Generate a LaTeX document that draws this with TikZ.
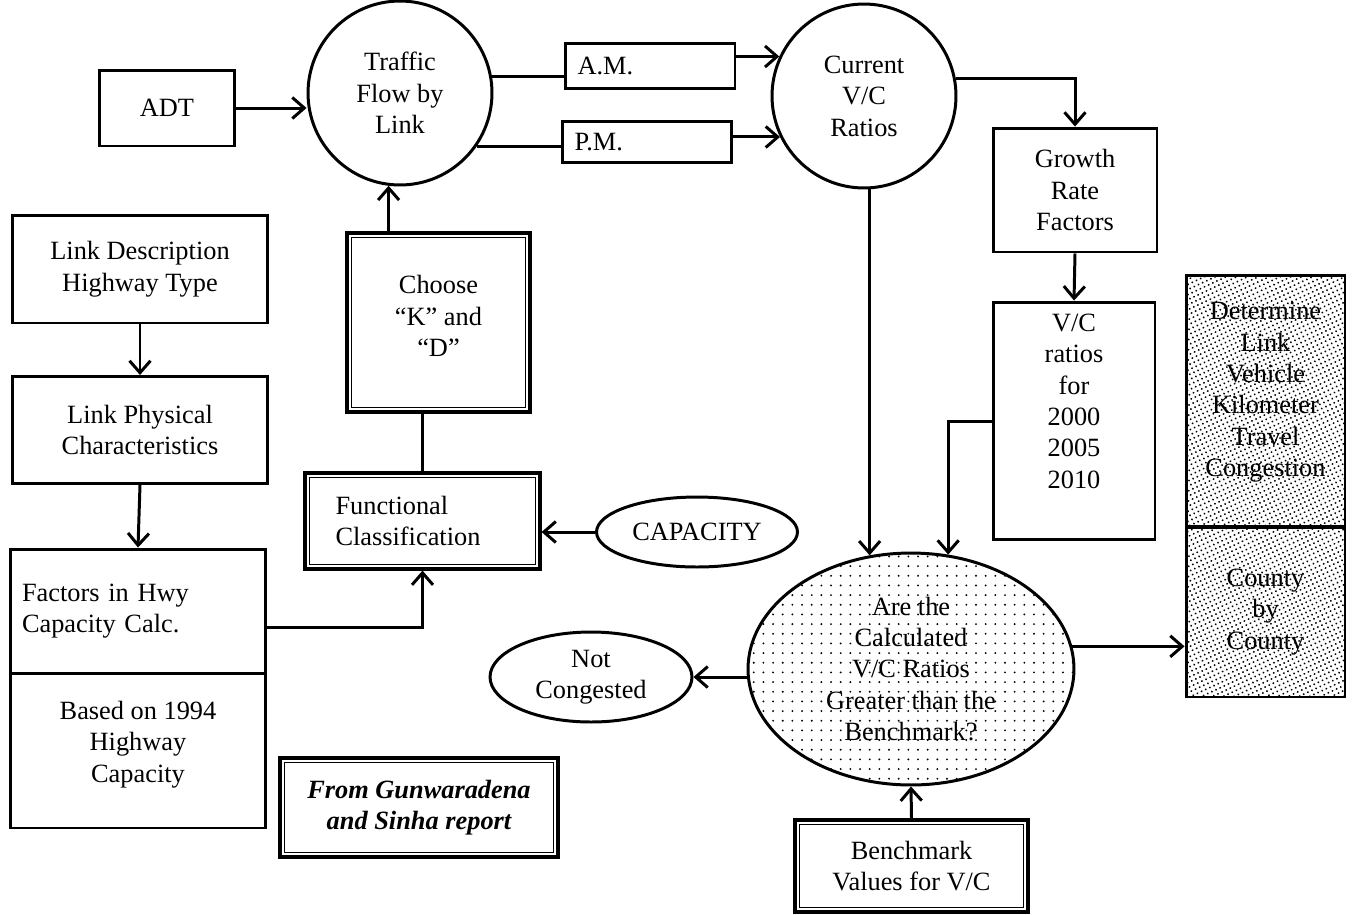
\documentclass[tikz,border=0pt]{standalone}
\usepackage{fontspec}
\setmainfont{Liberation Serif}
\usetikzlibrary{positioning, arrows.meta, shapes.geometric, patterns.meta}

\begin{document}
\begin{tikzpicture}[x=0.02cm, y=-0.02cm,
        every node/.style={font=\fontsize{15}{17.9}\selectfont, inner sep=0pt},
        box/.style={draw, line width=1.7pt, align=center},
        dbox/.style={box, line width=1.8pt},
        bubble/.style={draw, line width=1.7pt, ellipse, align=center},
        link/.style={line width=1.7pt},
        arr/.style={link, -{Straight Barb[length=2.4mm, width=4.2mm]}}]
    \useasboundingbox (0,0) rectangle (1355,914);

    \node[box, minimum width=2.72cm, minimum height=1.52cm] (adt) at (167,108) {ADT};
    \node[box, circle, minimum size=3.68cm] (flow) at (400,93) {Traffic\\Flow by\\Link};
    \node[box, minimum width=3.4cm, minimum height=0.9cm, text width=2.9cm, align=left] (am) at (650,66) {A.M.};
    \node[box, minimum width=3.38cm, minimum height=0.82cm, text width=2.9cm, align=left] (pm) at (647,142) {P.M.};
    \node[box, circle, minimum size=3.68cm] (current) at (864,96) {Current\\V/C\\Ratios};
    \node[box, minimum width=3.28cm, minimum height=2.48cm] (growth) at (1075,190) {Growth\\Rate\\Factors};
    \node[box, minimum width=3.24cm, minimum height=4.76cm, text depth=0.8cm] (ratios) at (1074,421)
        {V/C\\ratios\\for\\2000\\2005\\2010};

    \node[box, minimum width=5.12cm, minimum height=2.16cm] (linkdesc) at (140,269) {Link Description\\Highway Type};
    \node[box, minimum width=5.12cm, minimum height=2.14cm] (linkphys) at (140,430) {Link Physical\\Characteristics};
    \node[box, minimum width=5.12cm, minimum height=2.48cm, text width=4.64cm, align=left] (factors) at (138,611)
        {Factors in Hwy\\Capacity Calc.};
    \node[box, minimum width=5.12cm, minimum height=3.1cm, text depth=0.36cm] (based) at (138,750.5)
        {Based on 1994\\Highway\\Capacity};

    \node[dbox, minimum width=3.66cm, minimum height=3.58cm, text depth=0.26cm] (choose) at (438.5,322.5)
        {Choose\\``K'' and\\``D''};
    \node[dbox, minimum width=4.7cm, minimum height=1.92cm, text width=3.48cm, align=left]
        (functional) at (422.5,521) {Functional\\Classification};
    \node[bubble, minimum width=4.02cm, minimum height=1.4cm] (capacity) at (697,532) {CAPACITY};
    \node[dbox, minimum width=5.56cm, minimum height=1.98cm,
        font=\fontsize{15}{17.9}\selectfont\bfseries\itshape] (source) at (419,807.5)
        {From Gunwaradena\\and Sinha report};

    \node[bubble, minimum width=6.52cm, minimum height=4.64cm,
        pattern={Dots[distance=5.5pt, radius=0.6pt]}] (question) at (911,669)
        {Are the\\Calculated\\V/C Ratios\\Greater than the\\Benchmark?};
    \node[bubble, minimum width=4.04cm, minimum height=1.8cm] (notcong) at (591,677) {Not\\Congested};
    \node[dbox, minimum width=4.66cm, minimum height=1.84cm] (bench) at (911.5,866) {Benchmark\\Values for V/C};

    \node[box, minimum width=3.18cm, minimum height=5.04cm, text depth=0.46cm,
        pattern={Dots[distance=2.6pt, radius=0.6pt, angle=25]}] (determine) at (1265.5,401)
        {Determine\\Link\\Vehicle\\Kilometer\\Travel\\Congestion};
    \node[box, minimum width=3.18cm, minimum height=3.4cm,
        pattern={Dots[distance=2.6pt, radius=0.6pt, angle=25]}] (county) at (1265.5,612)
        {County\\by\\County};

    \foreach \n in {choose, functional, source, bench}
        \draw[line width=0.7pt] ([shift={(6,6)}]\n.north west) rectangle ([shift={(-6,-6)}]\n.south east);

    \draw[arr] (adt.east) -- (adt.east -| flow.west);
    \draw[link] (flow.10) -- (flow.10 -| am.west);
    \draw[link] (flow.-35) -- (flow.-35 -| pm.west);
    \draw[arr] (current.155 -| am.east) -- (current.155);
    \draw[arr] (current.206 -| pm.east) -- (current.206);
    \draw[arr] (current.11) -| (growth.north);
    \draw[arr] (growth.south) -- (ratios.north);
    \draw[arr] (ratios.west) -| (question.72);
    \draw[arr] (current.south -| question.110) -- (question.110);
    \draw[arr] (question.west |- notcong.east) -- (notcong.east);
    \draw[arr] (question.8) -- (question.8 -| county.west);
    \draw[arr] (bench.north) -- (question.south);
    \draw[arr] (linkdesc.south) -- (linkphys.north);
    \draw[arr] (linkphys.south) -- (factors.north);
    \draw[arr] ([yshift=-0.32cm]factors.east) -| (functional.south);
    \draw[link] (functional.north) -- (functional.north |- choose.south);
    \draw[arr] (choose.north -| flow.263) -- (flow.263);
    \draw[arr] (capacity.west) -- (capacity.west -| functional.east);
\end{tikzpicture}
\end{document}
